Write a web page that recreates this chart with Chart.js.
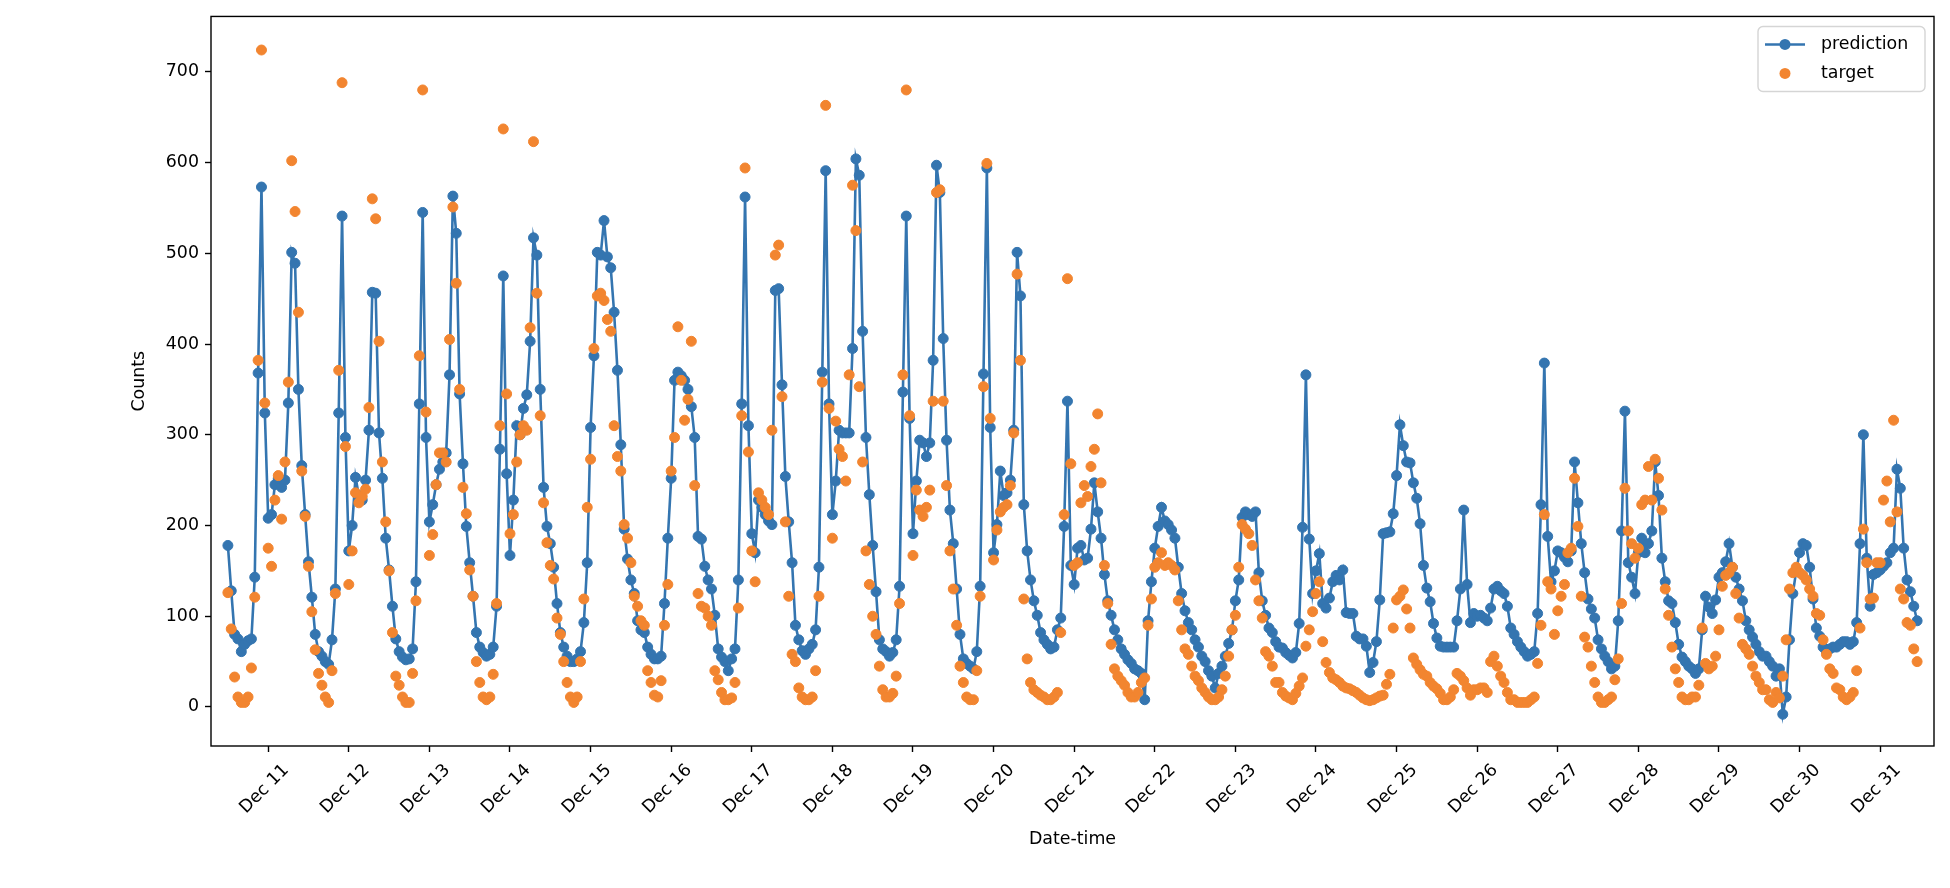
<!DOCTYPE html>
<html>
<head>
<meta charset="utf-8">
<title>prediction vs target</title>
<script src="https://cdn.jsdelivr.net/npm/chart.js@4.4.1/dist/chart.umd.min.js"></script>
<style>
  html, body { margin: 0; padding: 0; background: #fff; }
  canvas { display: block; }
</style>
</head>
<body>
<canvas id="chart" width="1950" height="888"></canvas>
<script>
// hourly samples, x = sample index; first day tick sits on sample 12, then every 24
const dayTicks = ['Dec 11', 'Dec 12', 'Dec 13', 'Dec 14', 'Dec 15', 'Dec 16', 'Dec 17',
  'Dec 18', 'Dec 19', 'Dec 20', 'Dec 21', 'Dec 22', 'Dec 23', 'Dec 24', 'Dec 25',
  'Dec 26', 'Dec 27', 'Dec 28', 'Dec 29', 'Dec 30', 'Dec 31'];
const firstTickAt = 12;
const hoursPerDay = 24;
const yTicks = [0, 100, 200, 300, 400, 500, 600, 700];

const prediction = [
  178, 128,
  80, 75, 61, 69, 73, 75, 143, 368, 573, 324, 208, 212, 245, 252, 242, 250, 335, 501, 489, 350, 266, 212, 160, 121,
  80, 61, 56, 50, 47, 74, 130, 324, 541, 297, 172, 200, 253, 233, 228, 250, 305, 457, 456, 302, 252, 186, 151, 111,
  75, 61, 55, 52, 53, 64, 138, 334, 545, 297, 204, 223, 245, 262, 270, 280, 366, 563, 522, 345, 268, 199, 159, 122,
  82, 66, 60, 56, 58, 66, 111, 284, 475, 257, 167, 228, 310, 300, 329, 344, 403, 517, 498, 350, 242, 199, 180, 154,
  114, 82, 66, 56, 50, 50, 53, 61, 93, 159, 308, 387, 501, 498, 536, 496, 484, 435, 371, 289, 196, 163, 140, 125,
  95, 85, 82, 66, 58, 53, 53, 56, 114, 186, 252, 360, 369, 365, 360, 350, 331, 297, 188, 185, 155, 140, 130, 101,
  64, 55, 50, 40, 53, 64, 140, 334, 562, 310, 191, 170, 228, 220, 212, 205, 201, 459, 461, 355, 254, 204, 159, 90,
  74, 62, 58, 64, 69, 85, 154, 369, 591, 334, 212, 249, 305, 302, 302, 302, 395, 604, 586, 414, 297, 234, 178, 127,
  74, 64, 61, 56, 60, 74, 133, 347, 541, 318, 191, 249, 294, 291, 276, 291, 382, 597, 567, 406, 294, 217, 180, 130,
  80, 53, 48, 45, 42, 61, 133, 367, 594, 308, 170, 201, 260, 233, 236, 250, 305, 501, 453, 223, 172, 140, 117, 101,
  82, 74, 69, 64, 66, 85, 98, 199, 337, 156, 135, 175, 178, 162, 164, 196, 247, 215, 186, 146, 117, 101, 85, 74,
  64, 58, 52, 48, 42, 40, 37, 8, 95, 138, 175, 199, 220, 205, 201, 195, 186, 154, 125, 106, 93, 85, 74, 66,
  56, 50, 40, 34, 21, 37, 45, 56, 70, 85, 117, 140, 209, 215, 212, 210, 215, 148, 117, 101, 87, 82, 72, 66,
  65, 60, 57, 54, 60, 92, 198, 366, 185, 125, 150, 169, 114, 109, 120, 138, 145, 140, 151, 104, 103, 103, 78, 75,
  75, 67, 38, 49, 72, 118, 191, 192, 193, 213, 255, 311, 288, 270, 269, 247, 230, 202, 156, 131, 116, 92, 76, 67,
  66, 66, 66, 66, 95, 130, 217, 135, 93, 103, 100, 101, 98, 95, 109, 130, 133, 128, 125, 111, 87, 80, 72, 66,
  61, 56, 58, 61, 103, 223, 379, 188, 138, 150, 172, 170, 165, 160, 172, 270, 225, 180, 148, 119, 108, 98, 74, 64,
  56, 50, 42, 45, 95, 194, 326, 159, 143, 125, 170, 186, 170, 180, 194, 270, 233, 164, 138, 117, 114, 93, 69, 55,
  50, 45, 42, 37, 42, 85, 122, 110, 103, 118, 143, 148, 160, 180, 154, 143, 130, 117, 95, 85, 77, 69, 61, 56,
  56, 50, 45, 34, 42, -8, 11, 74, 125, 150, 170, 180, 178, 154, 119, 87, 78, 66, 61, 64, 66, 66, 69, 72,
  72, 69, 72, 93, 180, 300, 164, 111, 146, 148, 151, 155, 159, 170, 175, 262, 241, 175, 140, 127, 111, 95
];

const target = [
  126, 86,
  33, 11, 5, 5, 11, 43, 121, 382, 724, 335, 175, 155, 228, 255, 207, 270, 358, 602, 546, 435, 260, 210, 155, 105,
  63, 37, 24, 11, 5, 40, 125, 371, 688, 287, 135, 172, 236, 225, 232, 240, 330, 560, 538, 403, 270, 204, 150, 82,
  34, 24, 11, 5, 5, 37, 117, 387, 680, 325, 167, 190, 245, 280, 280, 270, 405, 551, 467, 350, 242, 213, 151, 122,
  50, 27, 11, 8, 11, 36, 114, 310, 637, 345, 191, 212, 270, 300, 310, 305, 418, 623, 456, 321, 225, 181, 156, 141,
  98, 80, 50, 27, 11, 5, 11, 50, 119, 220, 273, 395, 453, 456, 448, 427, 414, 310, 276, 260, 201, 186, 159, 122,
  111, 95, 90, 40, 27, 13, 11, 29, 90, 135, 260, 297, 419, 360, 316, 339, 403, 244, 125, 111, 109, 100, 90, 40,
  30, 16, 8, 8, 10, 27, 109, 321, 594, 281, 172, 138, 236, 228, 220, 212, 305, 498, 509, 342, 204, 122, 58, 50,
  21, 11, 8, 8, 11, 40, 122, 358, 663, 329, 186, 315, 284, 276, 249, 366, 575, 525, 353, 270, 172, 135, 100, 80,
  45, 19, 11, 11, 15, 34, 114, 366, 680, 321, 167, 239, 217, 210, 220, 239, 337, 567, 570, 337, 244, 172, 130, 90,
  45, 27, 11, 8, 8, 40, 122, 353, 599, 318, 162, 195, 215, 220, 223, 244, 302, 477, 382, 119, 53, 27, 19, 16,
  13, 11, 8, 8, 11, 16, 82, 212, 472, 268, 156, 159, 225, 244, 232, 265, 284, 323, 247, 156, 114, 69, 42, 34,
  29, 24, 16, 11, 11, 16, 27, 32, 90, 119, 154, 159, 170, 156, 159, 156, 151, 117, 85, 64, 58, 45, 34, 29,
  21, 16, 11, 8, 8, 11, 19, 34, 56, 85, 101, 154, 201, 196, 191, 178, 140, 117, 98, 61, 56, 45, 27, 27,
  16, 12, 10, 8, 15, 23, 32, 67, 85, 105, 125, 138, 72, 49, 38, 32, 30, 27, 23, 21, 20, 18, 16, 13,
  10, 8, 7, 8, 10, 12, 13, 25, 36, 87, 118, 122, 129, 108, 87, 54, 47, 41, 36, 34, 27, 23, 20, 15,
  8, 8, 11, 19, 37, 34, 29, 21, 13, 19, 19, 21, 21, 16, 50, 56, 45, 34, 27, 16, 8, 8, 5, 5,
  5, 5, 8, 11, 48, 90, 212, 138, 130, 80, 106, 122, 135, 170, 175, 252, 199, 122, 77, 66, 45, 27, 11, 5,
  5, 8, 11, 30, 53, 114, 241, 194, 180, 164, 175, 223, 228, 265, 228, 273, 252, 217, 130, 101, 66, 42, 27, 11,
  8, 8, 11, 11, 24, 87, 48, 42, 45, 56, 85, 133, 145, 148, 154, 125, 98, 69, 64, 58, 45, 34, 27, 19,
  19, 8, 5, 16, 10, 34, 74, 130, 148, 154, 148, 145, 140, 130, 122, 103, 101, 74, 58, 42, 37, 21, 19, 11,
  8, 11, 16, 40, 87, 196, 159, 119, 120, 159, 159, 228, 249, 204, 316, 215, 130, 119, 93, 90, 64, 50
];

const BLUE = '#3475b0';
const ORANGE = '#f28530';
const FONT_PX = 17.4;

Chart.defaults.font.family = 'DejaVu Sans';
Chart.defaults.font.size = FONT_PX;
Chart.defaults.color = '#000';

// matplotlib-ish x margin of 1% around the samples
const lastIdx = prediction.length - 1;
const xPad = lastIdx * 0.01;

// black box around the axes, drawn over the data like mpl spines
const frame = {
  id: 'frame',
  afterDatasetsDraw(chart) {
    const { ctx, chartArea: a } = chart;
    ctx.save();
    ctx.strokeStyle = '#000';
    ctx.lineWidth = 1.4;
    ctx.strokeRect(a.left, a.top, a.right - a.left, a.bottom - a.top);
    ctx.restore();
  }
};

// legend in the upper right, line+marker for prediction, marker only for target
const mplLegend = {
  id: 'mplLegend',
  afterDraw(chart) {
    const { ctx, chartArea: a } = chart;
    const w = 167, h = 65;
    const x = a.right - 9 - w, y = a.top + 10;
    ctx.save();
    ctx.beginPath();
    ctx.roundRect(x, y, w, h, 5);
    ctx.fillStyle = 'rgba(255,255,255,0.8)';
    ctx.fill();
    ctx.strokeStyle = '#d5d5d5';
    ctx.lineWidth = 1.4;
    ctx.stroke();

    const rows = [
      { text: 'prediction', color: BLUE, line: true, cy: y + 18 },
      { text: 'target', color: ORANGE, line: false, cy: y + 47 }
    ];
    ctx.font = FONT_PX + 'px "DejaVu Sans"';
    ctx.textBaseline = 'middle';
    rows.forEach(r => {
      if (r.line) {
        ctx.strokeStyle = r.color;
        ctx.lineWidth = 2.6;
        ctx.beginPath();
        ctx.moveTo(x + 7, r.cy);
        ctx.lineTo(x + 47, r.cy);
        ctx.stroke();
      }
      ctx.fillStyle = r.color;
      ctx.beginPath();
      ctx.arc(x + 27, r.cy, 5.5, 0, Math.PI * 2);
      ctx.fill();
      ctx.fillStyle = '#000';
      ctx.fillText(r.text, x + 63, r.cy);
    });
    ctx.restore();
  }
};

const tickGrid = { drawOnChartArea: false, drawTicks: true, tickLength: 6, tickWidth: 1.4, tickColor: '#000' };

new Chart(document.getElementById('chart'), {
  type: 'line',
  data: {
    datasets: [
      {
        label: 'prediction',
        data: prediction.map((y, x) => ({ x, y })),
        borderColor: BLUE,
        backgroundColor: BLUE,
        borderWidth: 2.6,
        pointRadius: 5,
        pointBorderWidth: 1,
        pointBackgroundColor: BLUE,
        pointBorderColor: BLUE,
        tension: 0,
        order: 2
      },
      {
        label: 'target',
        data: target.map((y, x) => ({ x, y })),
        showLine: false,
        borderColor: ORANGE,
        backgroundColor: ORANGE,
        pointRadius: 5,
        pointBorderWidth: 1,
        pointBackgroundColor: ORANGE,
        pointBorderColor: ORANGE,
        order: 1
      }
    ]
  },
  options: {
    responsive: false,
    animation: false,
    events: [],
    devicePixelRatio: 1,
    layout: { padding: { left: 120, right: 16, top: 10, bottom: 0 } },
    plugins: {
      legend: { display: false },
      tooltip: { enabled: false }
    },
    scales: {
      x: {
        type: 'linear',
        min: -xPad,
        max: lastIdx + xPad,
        afterBuildTicks: s => { s.ticks = dayTicks.map((_, i) => ({ value: firstTickAt + hoursPerDay * i })); },
        afterFit: s => { s.height = 142; },
        ticks: {
          autoSkip: false,
          minRotation: 45,
          maxRotation: 45,
          padding: 8,
          labelOffset: 18,
          callback: (v, i) => dayTicks[i]
        },
        grid: tickGrid,
        border: { display: false },
        title: { display: true, text: 'Date-time', padding: { top: 0, bottom: 38 } }
      },
      y: {
        min: -43,
        max: 761,
        afterBuildTicks: s => { s.ticks = yTicks.map(v => ({ value: v })); },
        afterFit: s => { s.width = 91; },
        ticks: { padding: 6 },
        grid: tickGrid,
        border: { display: false },
        title: { display: true, text: 'Counts', padding: { top: 8.6, bottom: 0 } }
      }
    }
  },
  plugins: [frame, mplLegend]
});
</script>
</body>
</html>
